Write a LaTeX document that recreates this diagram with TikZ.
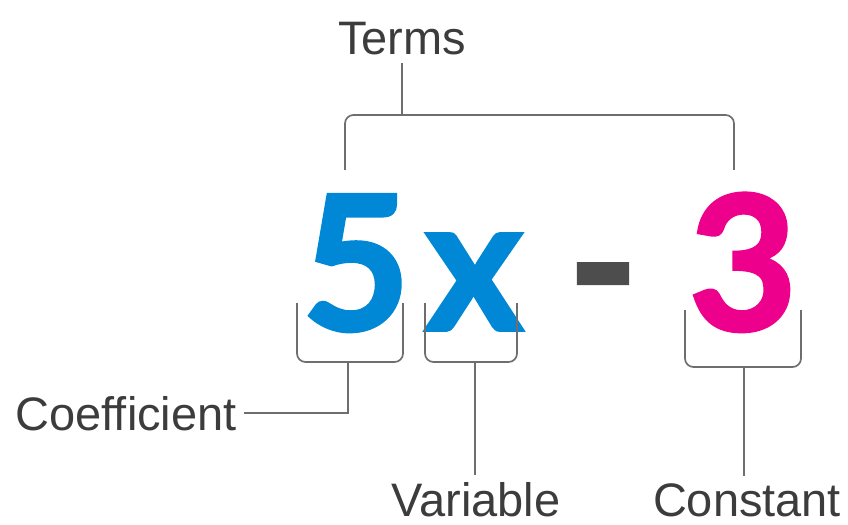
\documentclass[tikz,border=0pt]{standalone}
\usepackage{fontspec}
\setmainfont{Liberation Sans}
\newfontfamily\bigfont{Lato}[BoldFeatures={FakeBold=2}]
\usepackage{tikz}

\definecolor{termblue}{HTML}{0088D6}
\definecolor{constpink}{HTML}{EC008C}
\definecolor{labelgray}{HTML}{3C3C3C}
\definecolor{linegray}{HTML}{6E6E6E}
\definecolor{dashgray}{HTML}{4D4D4D}

\begin{document}
\begin{tikzpicture}[x=0.025cm,y=-0.025cm,
		lbl/.style={font=\fontsize{33.4}{40}\selectfont,text=labelgray,inner sep=5pt},
		big/.style={font=\bigfont\bfseries\fontsize{133}{150}\selectfont,inner sep=0pt,anchor=base},
		brace/.style={draw=linegray,line width=1.2pt,rounded corners=6pt},
		stem/.style={draw=linegray,line width=1.2pt}]
		\useasboundingbox (0,0) rectangle (848,525);
		% the expression
		\node[big,text=termblue] (five) at (356,330) {5};
		\node[big,text=termblue] (ex) at (474,330) {x};
		\node[big,text=dashgray] (minus) at (603,330) {-};
		\node[big,text=constpink] (three) at (743,330) {3};
		% labels
		\node[lbl,anchor=base] (terms) at (402,55) {Terms};
		\node[lbl,anchor=base east] (coef) at (244,430) {Coefficient};
		\node[lbl,anchor=base] (var) at (476,516) {Variable};
		\node[lbl,anchor=base] (const) at (747,516) {Constant};
		% brackets
		\draw[brace] (345,170) -- (345,115) -- (734,115) -- (734,170);
		\coordinate (cterms) at (402,115);
		\foreach \name/\l/\r/\t/\b/\m in {cfive/297/403/303/362/348,cex/425/517/303/362/475,cthree/685/801/310/367/744}{
			\draw[brace] (\l,\t) -- (\l,\b) -- (\r,\b) -- (\r,\t);
			\coordinate (\name) at (\m,\b);
		}
		\draw[stem] (terms) -- (cterms);
		\draw[stem] (cfive) |- (coef);
		\draw[stem] (cex) -- (cex |- var.north);
		\draw[stem] (cthree) -- (cthree |- const.north);
	\end{tikzpicture}
\end{document}
